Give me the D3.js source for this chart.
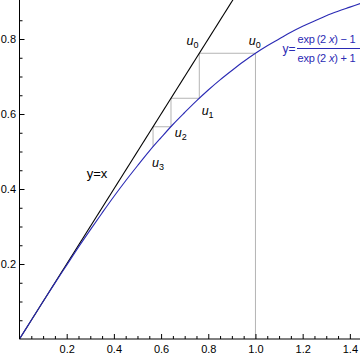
<!DOCTYPE html>
<html>
<head>
<meta charset="utf-8">
<script src="https://cdn.jsdelivr.net/npm/d3@7"></script>
<style>
  body { margin: 0; background: #fff; }
  text { font-family: "Liberation Sans", Arial, sans-serif; }
</style>
</head>
<body>
<div id="viz_container"></div>
<script>
// Data ////////////////////////////////////////////////////
// curve y = (exp(2x)-1)/(exp(2x)+1)
const curveX = [0, 0.05, 0.1, 0.15, 0.2, 0.25, 0.3, 0.35, 0.4, 0.45, 0.5, 0.55, 0.6, 0.65, 0.7,
  0.75, 0.8, 0.85, 0.9, 0.95, 1.0, 1.05, 1.1, 1.15, 1.2, 1.25, 1.3, 1.35, 1.4, 1.45];
const curveY = [0, 0.050, 0.100, 0.149, 0.197, 0.245, 0.291, 0.336, 0.380, 0.422, 0.462, 0.501, 0.537, 0.572, 0.604,
  0.635, 0.664, 0.691, 0.716, 0.740, 0.762, 0.782, 0.800, 0.818, 0.834, 0.848, 0.862, 0.874, 0.885, 0.896];

// line y = x
const diagX = [0, 1.0];
const diagY = [0, 1.0];

// cobweb staircase starting at u0 = 1
const webX = [1.0, 1.0, 0.762, 0.762, 0.642, 0.642, 0.566, 0.566];
const webY = [0, 0.762, 0.762, 0.642, 0.642, 0.566, 0.566, 0.513];

// tick labels
const xTicks = [0.2, 0.4, 0.6, 0.8, 1.0, 1.2, 1.4];
const yTicks = [0.2, 0.4, 0.6, 0.8];

// dimensions
const W = 360, H = 355;
const x0 = 19.5, yBase = 339;

const svg = d3.select("#viz_container")
  .append("svg")
    .attr("width", W)
    .attr("height", H);

const xScale = d3.scaleLinear().domain([0, 1.443]).range([x0, W]);
const yScale = d3.scaleLinear().domain([0, 0.904]).range([yBase, 0]);

// minor ticks
const xMinor = d3.range(0.05, 1.44, 0.05).filter(v => Math.abs(v * 5 - Math.round(v * 5)) > 1e-6);
const yMinor = d3.range(0.05, 0.9, 0.05).filter(v => Math.abs(v * 5 - Math.round(v * 5)) > 1e-6);

// cobweb
svg.append("path")
  .attr("d", d3.line().x(d => xScale(d[0])).y(d => yScale(d[1]))(webX.map((v, i) => [v, webY[i]])))
  .attr("fill", "none")
  .attr("stroke", "#b4b4b4")
  .attr("stroke-width", 1);

// y = x
svg.append("path")
  .attr("d", d3.line().x(d => xScale(d[0])).y(d => yScale(d[1]))(diagX.map((v, i) => [v, diagY[i]])))
  .attr("fill", "none")
  .attr("stroke", "#000")
  .attr("stroke-width", 1.1);

// blue curve
svg.append("path")
  .attr("d", d3.line().curve(d3.curveCatmullRom)
    .x(d => xScale(d[0])).y(d => yScale(d[1]))(curveX.map((v, i) => [v, curveY[i]])))
  .attr("fill", "none")
  .attr("stroke", "#2a2ab4")
  .attr("stroke-width", 1.1);

// axes
const xAxis = svg.append("g")
  .attr("transform", `translate(0,${yBase})`)
  .call(d3.axisBottom(xScale).tickValues(xTicks).tickFormat(d3.format(".1f"))
    .tickSizeInner(-5).tickSizeOuter(0).tickPadding(6));
svg.append("g")
  .attr("transform", `translate(0,${yBase})`)
  .call(d3.axisBottom(xScale).tickValues(xMinor).tickFormat("").tickSizeInner(-3).tickSizeOuter(0))
  .select(".domain").remove();

const yAxis = svg.append("g")
  .attr("transform", `translate(${x0},0)`)
  .call(d3.axisLeft(yScale).tickValues(yTicks).tickFormat(d3.format(".1f"))
    .tickSizeInner(-5).tickSizeOuter(0).tickPadding(3.5));
svg.append("g")
  .attr("transform", `translate(${x0},0)`)
  .call(d3.axisLeft(yScale).tickValues(yMinor).tickFormat("").tickSizeInner(-3).tickSizeOuter(0))
  .select(".domain").remove();

yAxis.select(".domain").attr("d", `M0,0V${yBase}`);
xAxis.select(".domain").attr("d", `M${x0},0H${W}`);
svg.selectAll(".tick text").attr("font-size", 11).attr("fill", "#000")
  .style("font-family", "'Liberation Sans', Arial, sans-serif");

// labels
const uLabel = (xv, yv, idx) => {
  const t = svg.append("text")
    .attr("x", xScale(xv))
    .attr("y", yScale(yv))
    .attr("font-size", 12.5)
    .attr("fill", "#000");
  t.append("tspan").attr("font-style", "italic").text("u");
  t.append("tspan").attr("font-size", 9).attr("dy", 3).text(idx);
};
uLabel(0.708, 0.784, "0");
uLabel(0.972, 0.784, "0");
uLabel(0.772, 0.597, "1");
uLabel(0.658, 0.540, "2");
uLabel(0.562, 0.460, "3");

svg.append("text")
  .attr("x", xScale(0.285))
  .attr("y", yScale(0.43))
  .attr("font-size", 13)
  .attr("fill", "#000")
  .text("y=x");

// formula label
const blue = "#2a2ab4";
svg.append("text")
  .attr("x", 282.5)
  .attr("y", 53)
  .attr("font-size", 12)
  .attr("fill", blue)
  .text("y=");
svg.append("text")
  .attr("x", 297.5)
  .attr("y", 43)
  .attr("font-size", 11)
  .attr("letter-spacing", -0.2)
  .attr("fill", blue)
  .html("exp\u2009(2 <tspan font-style='italic'>x</tspan>) \u2212 1");
svg.append("line")
  .attr("x1", 297).attr("x2", 360)
  .attr("y1", 48.5).attr("y2", 48.5)
  .attr("stroke", blue).attr("stroke-width", 1);
svg.append("text")
  .attr("x", 297.5)
  .attr("y", 62)
  .attr("font-size", 11)
  .attr("letter-spacing", -0.2)
  .attr("fill", blue)
  .html("exp\u2009(2 <tspan font-style='italic'>x</tspan>) + 1");
</script>
</body>
</html>
